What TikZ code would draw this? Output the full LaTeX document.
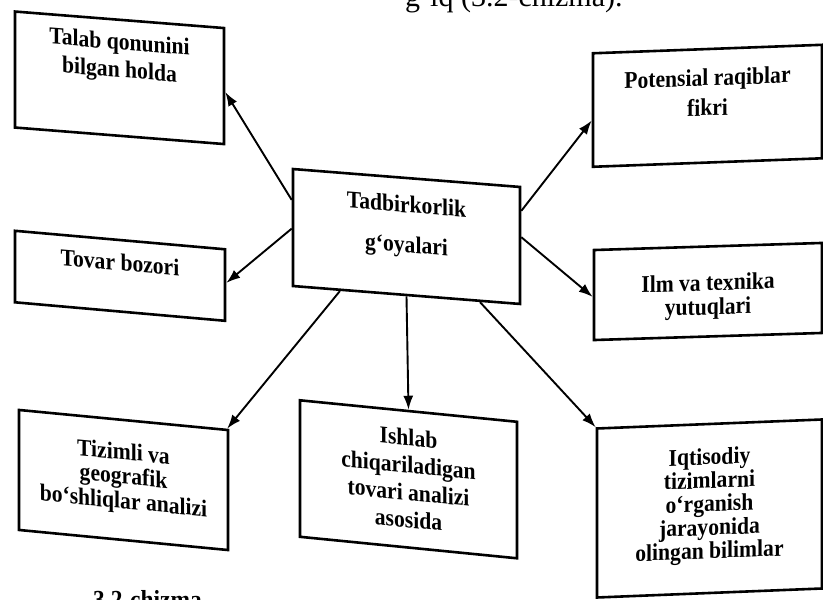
\documentclass[tikz,border=0pt]{standalone}
\usepackage{fontspec}
\setmainfont{Liberation Serif}[FakeStretch=0.9]
\newfontfamily\plainserif{Liberation Serif}
\usetikzlibrary{arrows.meta,calc}
\newcommand\boxtext[5]{\parbox[c][#2][t]{#1}{\centering\baselineskip=#4\relax\vspace*{#3}#5\par}}
\tikzset{
  box/.style={draw, line width=2.6pt, inner sep=0pt, fill=white, transform shape,
    font=\bfseries\fontsize{24}{26}\selectfont},
  arr/.style={line width=1.9pt, -{Latex[length=14pt,width=10pt]}},
}
\begin{document}
\begin{tikzpicture}[x=1pt,y=1pt]
\useasboundingbox (0,0) rectangle (823,600);
\clip (0,0) rectangle (823,600);
\fill[white] (0,0) rectangle (823,600);

\begin{scope}[shift={(119.5,522.2)}, yslant=-0.079]
\node[box] (talab) at (0,0) {\boxtext{209pt}{116pt}{13pt}{28pt}{Talab qonunini\\bilgan holda}};
\end{scope}
\begin{scope}[shift={(120,324.2)}, yslant=-0.088]
\node[box] (tovar) at (0,0) {\boxtext{210pt}{71.5pt}{14pt}{24pt}{Tovar bozori}};
\end{scope}
\begin{scope}[shift={(406.5,363.5)}, yslant=-0.079]
\node[box] (ctr) at (0,0) {\boxtext{227pt}{117pt}{18pt}{40pt}{Tadbirkorlik\\g‘oyalari}};
\end{scope}
\begin{scope}[shift={(123.5,120)}, yslant=-0.096]
\node[box] (tiz) at (0,0) {\boxtext{209pt}{120pt}{23pt}{24.5pt}{Tizimli va\\geografik\\bo‘shliqlar analizi}};
\end{scope}
\begin{scope}[shift={(408.5,120.7)}, yslant=-0.099]
\node[box] (ish) at (0,0) {\boxtext{217pt}{136.5pt}{18pt}{27.3pt}{Ishlab\\chiqariladigan\\tovari analizi\\asosida}};
\end{scope}
\begin{scope}[shift={(707.5,494.2)}, yslant=0.037]
\node[box] (pot) at (0,0) {\boxtext{229pt}{113.5pt}{20pt}{30pt}{Potensial raqiblar\\fikri}};
\end{scope}
\begin{scope}[shift={(708,308.5)}, yslant=0.031]
\node[box] (ilm) at (0,0) {\boxtext{228pt}{90pt}{27.5pt}{24pt}{Ilm va texnika\\yutuqlari}};
\end{scope}
\begin{scope}[shift={(709.5,91.5)}, yslant=0.04]
\node[box] (iqt) at (0,0) {\boxtext{225pt}{169pt}{24pt}{23.5pt}{Iqtisodiy\\tizimlarni\\o‘rganish\\jarayonida\\olingan bilimlar}};
\end{scope}

\draw[arr] ($(ctr.north west)!0.27!(ctr.south west)$) -- ($(talab.north east)!0.55!(talab.south east)$);
\draw[arr] ($(ctr.north west)!0.51!(ctr.south west)$) -- ($(tovar.north east)!0.47!(tovar.south east)$);
\draw[arr] ($(ctr.north east)!0.21!(ctr.south east)$) -- ($(pot.north west)!0.59!(pot.south west)$);
\draw[arr] ($(ctr.north east)!0.43!(ctr.south east)$) -- ($(ilm.north west)!0.52!(ilm.south west)$);
\draw[arr] ($(ctr.south west)!0.21!(ctr.south east)$) -- ($(tiz.north west)!0.99!(tiz.north east)$);
\draw[arr] (ctr.south) -- (ish.north);
\draw[arr] ($(ctr.south west)!0.82!(ctr.south east)$) -- (iqt.north west);

\node[anchor=base west, inner sep=0pt, font=\plainserif\fontsize{30}{30}\selectfont] (toptxt) at (405,593) {g‘iq (3.2-chizma).};
\node[anchor=base west, inner sep=0pt, font=\bfseries\fontsize{26}{26}\selectfont] (captxt) at (93,-9) {3.2-chizma};
\end{tikzpicture}
\end{document}
